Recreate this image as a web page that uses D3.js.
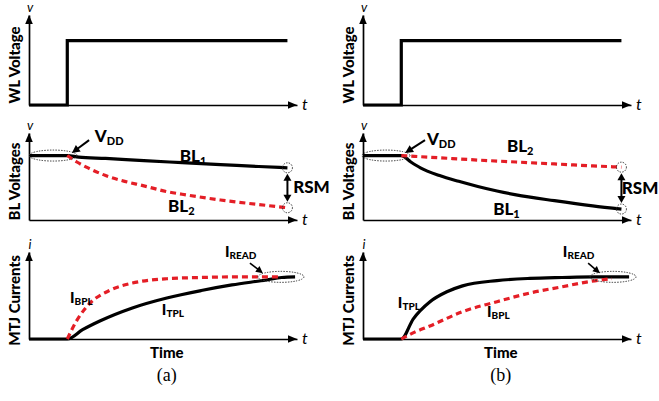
<!DOCTYPE html>
<html>
<head>
<meta charset="utf-8">
<script src="https://cdn.jsdelivr.net/npm/d3@7"></script>
<style>
  body { margin: 0; background: #fff; }
  svg { display: block; }
  text { font-family: Lato, "Open Sans", sans-serif; fill: #000; }
</style>
</head>
<body>
<svg id="fig" width="659" height="401"></svg>
<script>
// ---- Waveform data (time in arbitrary units, amplitudes normalised to the final level) ----
const wlTime  = [0, 1, 1, 6.75];
const wlLevel = [0, 0, 1, 1];

// (a) parallel-state read: BL1 holds, BL2 discharges
const blATime1 = [0, 1, 1.3, 2, 3, 4, 5, 6, 6.75];
const blA1     = [1, 1, 0.975, 0.955, 0.92, 0.89, 0.86, 0.83, 0.81];
const blATime2 = [1, 1.25, 1.5, 2, 2.5, 3, 3.6, 4, 5, 6, 6.75];
const blA2     = [1, 0.9, 0.82, 0.69, 0.6, 0.53, 0.44, 0.4, 0.31, 0.24, 0.19];

// (b) anti-parallel read: BL1 discharges, BL2 holds
const blBTime1 = [0, 1, 1.25, 1.5, 2, 2.5, 3, 3.5, 4, 5, 6, 6.75];
const blB1     = [1, 1, 0.9, 0.81, 0.69, 0.6, 0.52, 0.45, 0.39, 0.3, 0.22, 0.17];
const blBTime2 = [1, 2, 3, 4, 5, 6, 6.75];
const blB2     = [1, 0.965, 0.93, 0.9, 0.87, 0.84, 0.82];

// MTJ currents
const iATimeT = [0, 1, 1.4, 1.85, 2.7, 3.6, 4.5, 5.3, 6.2, 6.6, 6.95];
const iATpl   = [0, 0, 0.15, 0.29, 0.5, 0.66, 0.78, 0.87, 0.95, 0.99, 1.0];
const iATimeB = [1, 1.25, 1.6, 2.1, 2.7, 3.6, 4.5, 5.5, 6.55];
const iABpl   = [0, 0.3, 0.58, 0.78, 0.9, 0.97, 0.99, 1.0, 1.0];

const iBTimeT = [0, 1, 1.31, 1.75, 2.19, 2.6, 3.5, 4.36, 5.2, 6.0, 6.95];
const iBTpl   = [0, 0, 0.32, 0.6, 0.76, 0.855, 0.94, 0.975, 0.99, 1.0, 1.0];
const iBTimeB = [1, 1.35, 1.75, 2.6, 3.5, 4.36, 5.2, 5.97, 6.5];
const iBBpl   = [0, 0.11, 0.21, 0.44, 0.6, 0.74, 0.84, 0.93, 0.97];

const rowTitles = ["WL Voltage", "BL Voltages", "MTJ Currents"];
const panelTags = ["(a)", "(b)"];

const zip = (ts, vs) => ts.map((t, i) => [t, vs[i]]);

// ---- Layout ----
const RED = "#e41e26";
const HEAVY = 900;
const svg = d3.select("#fig");
svg.append("rect").attr("width", 659).attr("height", 401).attr("fill", "#fff");

const rows = [
  { axisY: 105, tipY: 15,  max: 1.4,  sym: "v" },
  { axisY: 220, tipY: 133, max: 1.35, sym: "v" },
  { axisY: 339, tipY: 252, max: 1.4,  sym: "i" }
];

const panels = [
  {
    x0: 29, tag: panelTags[0],
    bl: [
      { pts: zip(blATime1, blA1), red: false, name: "BL", sub: "1", lt: 3.94, lv: 0.9 },
      { pts: zip(blATime2, blA2), red: true,  name: "BL", sub: "2", lt: 3.63, lv: 0.12 }
    ],
    mtj: [
      { pts: zip(iATimeB, iABpl), red: true,  name: "I", sub: "BPL", lt: 1.07, lv: 0.58 },
      { pts: zip(iATimeT, iATpl), red: false, name: "I", sub: "TPL", lt: 3.47, lv: 0.39 }
    ],
    vdd: { et: 0.63, tt: 1.72, tv: 1.21, from: [1.57, 1.24], to: [1.12, 1.04] },
    rsm: { tt: 6.9, tv: 0.42 },
    iread: { et: 6.58, tt: 5.12, tv: 1.32, from: [5.77, 1.22], to: [6.11, 1.06] }
  },
  {
    x0: 363, tag: panelTags[1],
    bl: [
      { pts: zip(blBTime2, blB2), red: true,  name: "BL", sub: "2", lt: 3.76, lv: 1.06 },
      { pts: zip(blBTime1, blB1), red: false, name: "BL", sub: "1", lt: 3.4,  lv: 0.08 }
    ],
    mtj: [
      { pts: zip(iBTimeB, iBBpl), red: true,  name: "I", sub: "BPL", lt: 3.24, lv: 0.35 },
      { pts: zip(iBTimeT, iBTpl), red: false, name: "I", sub: "TPL", lt: 0.91, lv: 0.5 }
    ],
    vdd: { et: 0.6, tt: 1.67, tv: 1.16, from: [1.62, 1.24], to: [1.1, 1.04] },
    rsm: { tt: 6.76, tv: 0.4 },
    iread: { et: 6.53, tt: 5.22, tv: 1.32, from: [5.88, 1.22], to: [6.19, 1.06] }
  }
];

function arrowHead(g, x1, y1, x2, y2, len, half) {
  const a = Math.atan2(y2 - y1, x2 - x1);
  const bx = x2 - len * Math.cos(a), by = y2 - len * Math.sin(a);
  const px = -Math.sin(a) * half, py = Math.cos(a) * half;
  g.append("path")
    .attr("d", `M${x2},${y2}L${bx + px},${by + py}L${bx - px},${by - py}Z`)
    .attr("fill", "#000");
}

function arrow(g, x1, y1, x2, y2, w, len, half) {
  const a = Math.atan2(y2 - y1, x2 - x1);
  g.append("line")
    .attr("x1", x1).attr("y1", y1)
    .attr("x2", x2 - (len - 1) * Math.cos(a)).attr("y2", y2 - (len - 1) * Math.sin(a))
    .attr("stroke", "#000").attr("stroke-width", w);
  arrowHead(g, x1, y1, x2, y2, len, half);
}

function subLabel(g, x, y, main, sub, size, subSize, drop) {
  const t = g.append("text").attr("x", x).attr("y", y)
    .attr("font-weight", HEAVY).attr("font-size", size);
  t.append("tspan").text(main);
  t.append("tspan").attr("dy", drop).attr("font-size", subSize).text(sub);
}

function dotted(sel) {
  return sel.attr("fill", "none").attr("stroke", "#333")
    .attr("stroke-width", 1).attr("stroke-dasharray", "1.4,1.3");
}

panels.forEach(p => {
  const g = svg.append("g");
  const x = d3.scaleLinear().domain([0, 7]).range([p.x0, p.x0 + 268]);

  const ys = rows.map(r => d3.scaleLinear().domain([0, r.max]).range([r.axisY, r.tipY]));

  rows.forEach((r, i) => {
    const y = ys[i];
    // axes without ticks, then arrowheads
    g.append("g").attr("transform", `translate(0,${r.axisY})`)
      .call(d3.axisBottom(x).ticks(0).tickSizeOuter(0))
      .call(s => s.select(".domain").attr("stroke-width", 1.7));
    g.append("g").attr("transform", `translate(${p.x0},0)`)
      .call(d3.axisLeft(y).ticks(0).tickSizeOuter(0))
      .call(s => s.select(".domain").attr("stroke-width", 1.7));
    arrowHead(g, p.x0, r.axisY, p.x0, r.tipY, 9, 3.8);
    arrowHead(g, p.x0, r.axisY, p.x0 + 268, r.axisY, 9, 3.8);

    g.append("text").attr("x", p.x0 + 1).attr("y", r.tipY - 3)
      .attr("text-anchor", "middle").attr("font-style", "italic")
      .attr("font-size", 13).text(r.sym);
    g.append("text").attr("x", p.x0 + 273).attr("y", r.axisY + 5)
      .attr("font-style", "italic").attr("font-size", 16).text("t");

    const cy = (r.axisY + r.tipY) / 2 + 5;
    g.append("text")
      .attr("transform", `translate(${p.x0 - 9},${cy}) rotate(-90)`)
      .attr("text-anchor", "middle").attr("font-weight", HEAVY)
      .attr("font-size", 15).text(rowTitles[i]);
  });

  const line = y => d3.line().x(d => x(d[0])).y(d => y(d[1])).curve(d3.curveMonotoneX);

  // WL step
  g.append("path").datum(zip(wlTime, wlLevel))
    .attr("d", d3.line().x(d => x(d[0])).y(d => ys[0](d[1])))
    .attr("fill", "none").attr("stroke", "#000").attr("stroke-width", 3.2);

  // series drawer: black first, red dashed on top
  function drawSeries(list, y) {
    list.slice().sort((a, b) => a.red - b.red).forEach(s => {
      g.append("path").datum(s.pts)
        .attr("d", line(y))
        .attr("fill", "none")
        .attr("stroke", s.red ? RED : "#000")
        .attr("stroke-width", 3.2)
        .attr("stroke-dasharray", s.red ? "6,4" : null);
    });
  }

  // BL voltages
  const yb = ys[1];
  drawSeries(p.bl, yb);
  p.bl.forEach(s => subLabel(g, x(s.lt), yb(s.lv), s.name, s.sub, 17, 11, 3));

  dotted(g.append("ellipse")).attr("cx", x(p.vdd.et)).attr("cy", yb(1))
    .attr("rx", 24).attr("ry", 5.5);
  subLabel(g, x(p.vdd.tt), yb(p.vdd.tv), "V", "DD", 17, 11, 3);
  arrow(g, x(p.vdd.from[0]), yb(p.vdd.from[1]), x(p.vdd.to[0]), yb(p.vdd.to[1]), 2, 8, 4);

  const ends = p.bl.map(s => s.pts[s.pts.length - 1]);
  ends.forEach(e => dotted(g.append("circle")).attr("cx", x(e[0])).attr("cy", yb(e[1])).attr("r", 5));
  const hi = d3.max(ends, e => e[1]), lo = d3.min(ends, e => e[1]);
  const ax = x(ends[0][0]);
  const yTop = yb(hi) + 6, yBot = yb(lo) - 6;
  g.append("line").attr("x1", ax).attr("x2", ax)
    .attr("y1", yTop + 6).attr("y2", yBot - 6)
    .attr("stroke", "#000").attr("stroke-width", 2);
  arrowHead(g, ax, yBot, ax, yTop, 7, 4);
  arrowHead(g, ax, yTop, ax, yBot, 7, 4);
  g.append("text").attr("x", x(p.rsm.tt)).attr("y", yb(p.rsm.tv))
    .attr("font-weight", HEAVY).attr("font-size", 17).text("RSM");

  // MTJ currents
  const yc = ys[2];
  drawSeries(p.mtj, yc);
  p.mtj.forEach(s => subLabel(g, x(s.lt), yc(s.lv), s.name, s.sub, 15, 10, 2));
  dotted(g.append("ellipse")).attr("cx", x(p.iread.et)).attr("cy", yc(1))
    .attr("rx", 23).attr("ry", 5.5);
  subLabel(g, x(p.iread.tt), yc(p.iread.tv), "I", "READ", 15, 10, 2);
  arrow(g, x(p.iread.from[0]), yc(p.iread.from[1]), x(p.iread.to[0]), yc(p.iread.to[1]), 1.6, 7, 3.5);

  g.append("text").attr("x", x(3.6)).attr("y", rows[2].axisY + 19)
    .attr("text-anchor", "middle").attr("font-weight", HEAVY)
    .attr("font-size", 15).text("Time");
  g.append("text").attr("x", x(3.6)).attr("y", rows[2].axisY + 42)
    .attr("text-anchor", "middle")
    .style("font-family", "'Liberation Serif', 'Times New Roman', serif")
    .attr("font-size", 18).text(p.tag);
});
</script>
</body>
</html>
